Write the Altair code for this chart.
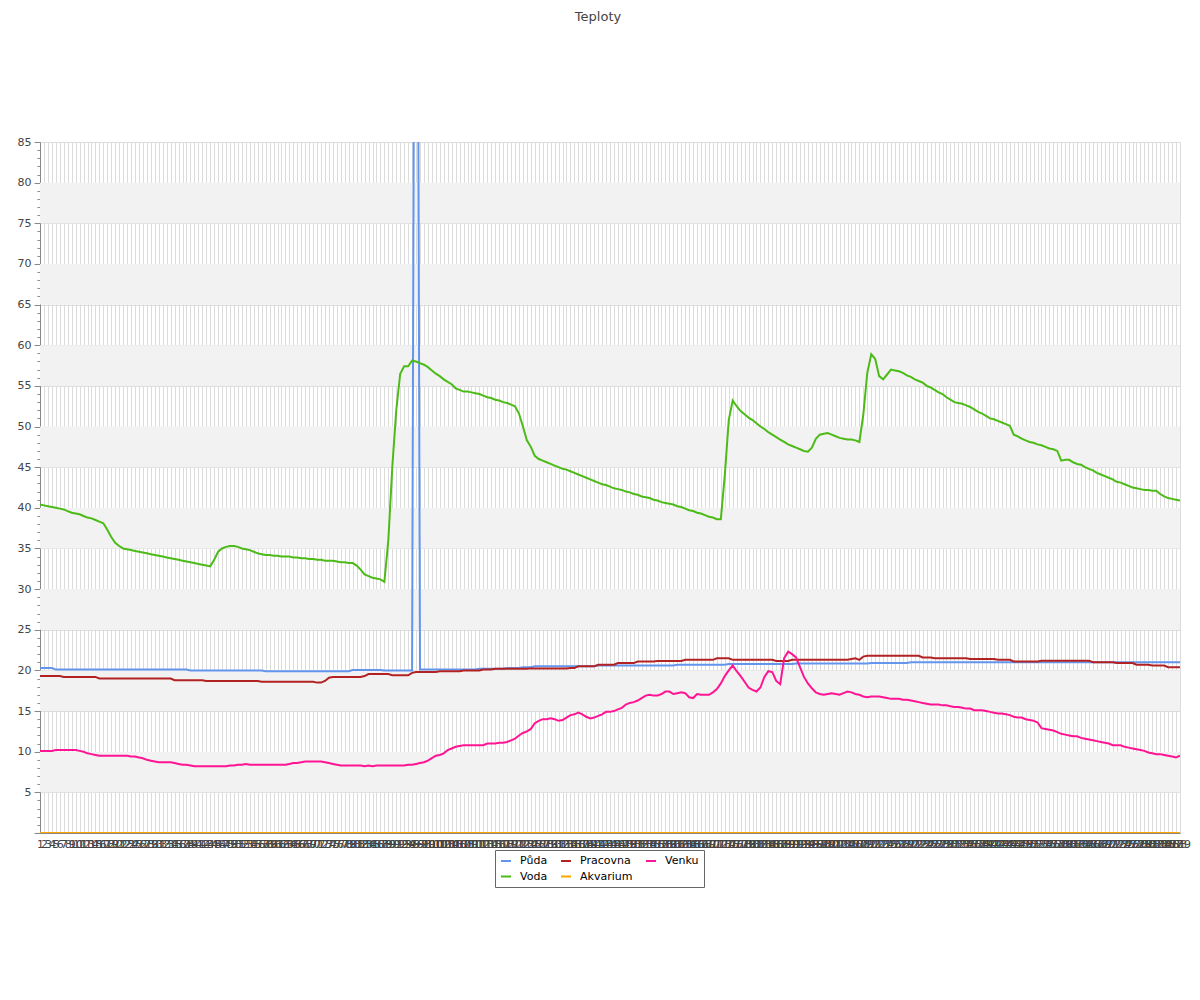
import altair as alt
import pandas as pd

# x-axis tick labels (reading index)
labels = [str(i) for i in range(1, 290)]

series_names = ["Půda", "Voda", "Pracovna", "Akvarium", "Venku"]
series_colors = ["#6495ED", "#4CBB17", "#B22222", "#FFA500", "#FF1493"]

voda = [
    40.4, 40.3, 40.2, 40.1, 40.0, 39.9, 39.8, 39.6, 39.4, 39.3, 39.2, 39.0, 38.8, 38.7, 38.5, 38.3, 38.1,
    37.3, 36.4, 35.7, 35.3, 35.0, 34.9,
    34.8, 34.7, 34.6, 34.5, 34.4, 34.3, 34.2, 34.1, 34.0, 33.9, 33.8, 33.7, 33.6, 33.5, 33.4, 33.3, 33.2, 33.1, 33.0, 32.9, 32.8,
    33.6, 34.6, 35.0, 35.2, 35.3, 35.3, 35.2, 35.0, 34.9, 34.8, 34.6, 34.4, 34.3, 34.2, 34.2, 34.1, 34.1,
    34.0, 34.0, 34.0, 33.9, 33.9, 33.8, 33.8, 33.7, 33.7, 33.6, 33.6, 33.5, 33.5, 33.5, 33.4, 33.3, 33.3, 33.2, 33.2,
    32.9, 32.4, 31.8, 31.6, 31.4, 31.3, 31.2, 30.9,
    36.0, 45.0, 52.0, 56.5, 57.4, 57.4, 58.1, 58.0, 57.8, 57.6, 57.3, 56.9,
    56.5, 56.2, 55.8, 55.5, 55.2, 54.7, 54.5, 54.3, 54.3, 54.2, 54.1, 54.0, 53.8, 53.6, 53.5, 53.3, 53.2, 53.0, 52.9, 52.7, 52.5,
    51.6, 50.0, 48.3, 47.5, 46.4, 46.0, 45.8, 45.6, 45.4, 45.2,
    45.0, 44.8, 44.7, 44.5, 44.3, 44.1, 43.9, 43.7, 43.5, 43.3, 43.1, 42.9, 42.8, 42.6, 42.4, 42.3, 42.2, 42.0, 41.9, 41.7,
    41.6, 41.4, 41.3, 41.2, 41.0, 40.9, 40.7, 40.6, 40.5, 40.4, 40.2, 40.1, 39.9, 39.7, 39.6, 39.4, 39.3, 39.1, 38.9, 38.8, 38.6, 38.6,
    44.0, 50.8, 53.2, 52.5, 51.9, 51.5, 51.1, 50.8, 50.4, 50.0, 49.7, 49.3, 49.0, 48.7, 48.4, 48.1, 47.8, 47.6, 47.4, 47.2, 47.0, 46.9,
    47.4, 48.5, 49.0, 49.1, 49.2, 49.0, 48.8, 48.6, 48.5, 48.4, 48.4, 48.3, 48.1,
    51.5, 56.6, 58.9, 58.3, 56.2, 55.8, 56.4, 57.0, 56.9, 56.8, 56.6, 56.3, 56.1,
    55.8, 55.6, 55.4, 55.0, 54.8, 54.5, 54.2, 54.0, 53.6, 53.3, 53.0, 52.9, 52.8, 52.6, 52.4, 52.1, 51.8, 51.6, 51.3, 51.0, 50.9, 50.7, 50.5, 50.3, 50.1,
    49.0, 48.8, 48.5, 48.3, 48.1, 48.0, 47.8, 47.7, 47.5, 47.3, 47.2, 47.0,
    45.8, 45.9, 45.9, 45.6, 45.4, 45.3, 45.0, 44.8, 44.6, 44.3, 44.1, 43.9, 43.7, 43.5, 43.2, 43.1, 42.9, 42.7, 42.5, 42.4, 42.3, 42.2, 42.2, 42.1, 42.1, 41.7, 41.4, 41.2, 41.1, 41.0, 40.9,
]

venku = [
    10.1, 10.1, 10.1, 10.1, 10.2, 10.2, 10.2, 10.2, 10.2, 10.2,
    10.1, 10.0, 9.8, 9.7, 9.6, 9.5, 9.5, 9.5, 9.5, 9.5, 9.5, 9.5, 9.5,
    9.4, 9.4, 9.3, 9.2, 9.0, 8.9, 8.8, 8.7, 8.7, 8.7, 8.7,
    8.6, 8.5, 8.4, 8.4, 8.3, 8.2, 8.2, 8.2, 8.2, 8.2, 8.2, 8.2, 8.2, 8.2,
    8.3, 8.3, 8.4, 8.4, 8.5, 8.4, 8.4, 8.4, 8.4, 8.4, 8.4, 8.4, 8.4, 8.4, 8.4,
    8.5, 8.6, 8.6, 8.7, 8.8, 8.8, 8.8, 8.8, 8.8, 8.7, 8.6, 8.5, 8.4,
    8.3, 8.3, 8.3, 8.3, 8.3, 8.3, 8.2, 8.3, 8.2, 8.3, 8.3, 8.3, 8.3, 8.3, 8.3, 8.3, 8.3,
    8.4, 8.4, 8.5, 8.6, 8.7, 8.9, 9.2, 9.5, 9.6, 9.8, 10.2, 10.4, 10.6, 10.7,
    10.8, 10.8, 10.8, 10.8, 10.8, 10.8,
    11.0, 11.0, 11.0, 11.1, 11.1, 11.2, 11.4, 11.6, 12.0, 12.3, 12.5, 12.8,
    13.5, 13.8, 14.0, 14.0, 14.1, 14.0, 13.8, 13.9, 14.2, 14.5, 14.6, 14.8, 14.6, 14.3, 14.1,
    14.2, 14.4, 14.6, 14.9, 14.9, 15.0, 15.2, 15.4, 15.8, 16.0, 16.1, 16.3, 16.6, 16.9, 17.0,
    16.9, 16.9, 17.1, 17.4, 17.4, 17.1, 17.2, 17.3, 17.2, 16.7, 16.6, 17.1, 17.0, 17.0, 17.0,
    17.3, 17.7, 18.4, 19.3, 20.0, 20.6, 19.9, 19.3, 18.6, 17.9, 17.6, 17.4, 17.9, 19.2, 19.9,
    19.8, 18.7, 18.3, 21.5, 22.3, 22.0, 21.6, 20.4, 19.2, 18.4, 17.8, 17.3, 17.1, 17.0, 17.1,
    17.2, 17.1, 17.0, 17.2, 17.4, 17.3, 17.1, 17.0, 16.8, 16.7, 16.8, 16.8, 16.8, 16.7, 16.6,
    16.5, 16.5, 16.5, 16.4, 16.4, 16.3, 16.2, 16.1, 16.0, 15.9, 15.8, 15.8, 15.8, 15.7, 15.7,
    15.6, 15.5, 15.5, 15.4, 15.3, 15.3, 15.1, 15.1, 15.1, 15.0, 14.9, 14.8, 14.7, 14.7, 14.6,
    14.5, 14.3, 14.2, 14.2, 14.0, 13.9, 13.8, 13.6, 12.9, 12.8, 12.7, 12.6, 12.4, 12.2, 12.1,
    12.0, 11.9, 11.9, 11.7, 11.6, 11.5, 11.4, 11.3, 11.2, 11.1, 11.0, 10.8, 10.8, 10.8, 10.6,
    10.5, 10.4, 10.3, 10.2, 10.1, 9.9, 9.8, 9.7, 9.7, 9.6, 9.5, 9.4, 9.3, 9.5,
]

# flat stretches: (value, number of readings)
puda_runs = [
    (20.3, 4), (20.1, 34), (20.0, 19), (19.9, 22), (20.05, 8), (20.0, 8), (180.0, 1),
    (20.1, 15), (20.2, 7), (20.3, 4), (20.4, 3), (20.5, 16), (20.6, 20), (20.7, 13),
    (20.8, 17), (20.85, 19), (20.9, 10), (21.0, 69),
]
pracovna_runs = [
    (19.3, 6), (19.2, 9), (19.0, 19), (18.8, 8), (18.7, 14), (18.6, 14), (18.5, 2), (18.7, 1),
    (19.1, 1), (19.2, 8), (19.3, 1), (19.55, 6), (19.4, 5), (19.7, 1), (19.8, 6), (19.9, 6),
    (20.0, 5), (20.1, 3), (20.2, 9), (20.25, 10), (20.3, 2), (20.5, 5), (20.7, 5), (20.9, 5),
    (21.1, 5), (21.15, 7), (21.3, 8), (21.5, 4), (21.3, 11), (21.15, 4), (21.3, 15), (21.4, 1),
    (21.5, 1), (21.3, 1), (21.7, 1), (21.8, 14), (21.6, 3), (21.5, 9), (21.4, 7), (21.3, 4),
    (21.1, 7), (21.2, 13), (21.0, 6), (20.9, 5), (20.7, 4), (20.6, 4), (20.4, 4),
]
akvarium_runs = [(0.0, 289)]

band_lo = [5, 15, 25, 35, 45, 55, 65, 75]
band_hi = [10, 20, 30, 40, 50, 60, 70, 80]


def expand(runs):
    out = []
    for v, n in runs:
        out.extend([v] * n)
    return out


puda = expand(puda_runs)
pracovna = expand(pracovna_runs)
akvarium = expand(akvarium_runs)

values = {"Půda": puda, "Voda": voda, "Pracovna": pracovna, "Akvarium": akvarium, "Venku": venku}
rows = []
for name in series_names:
    vals = values[name]
    for lab, v in zip(labels, vals):
        rows.append({"x": lab, "value": v, "serie": name})
df = pd.DataFrame(rows)
bands = pd.DataFrame({"lo": band_lo, "hi": band_hi})

FONT = "DejaVu Sans"
major = "datum.value % 5 === 0"

y_axis = alt.Axis(
    values=list(range(0, 86)),
    labelExpr="datum.value % 5 === 0 && datum.value > 0 ? datum.label : ''",
    tickSize={"condition": {"test": major, "value": 6}, "value": 3},
    gridOpacity={"condition": {"test": major, "value": 1}, "value": 0},
    gridColor="#dcdcdc",
    domainColor="#888888",
    tickColor="#888888",
    labelFontSize=11,
    labelColor="#444444",
    labelPadding=3,
    labelFont=FONT,
    title=None,
)
x_axis = alt.Axis(
    labelAngle=0,
    labelOverlap=False,
    labelBound=False,
    grid=True,
    gridColor="#dcdcdc",
    ticks=False,
    domainColor="#888888",
    labelFontSize=11,
    labelColor="#444444",
    labelPadding=5,
    labelFont=FONT,
    title=None,
)

yscale = alt.Scale(domain=[0, 85], nice=False, zero=False)

band_layer = alt.Chart(bands).mark_rect(color="#f2f2f2").encode(
    y=alt.Y("lo:Q", scale=yscale, axis=y_axis),
    y2="hi:Q",
)

lines = alt.Chart(df).mark_line(strokeWidth=2, clip=True).encode(
    x=alt.X("x:O", sort=labels, scale=alt.Scale(type="point", padding=0), axis=x_axis),
    y=alt.Y("value:Q", scale=yscale, axis=y_axis),
    color=alt.Color(
        "serie:N",
        scale=alt.Scale(domain=series_names, range=series_colors),
        legend=alt.Legend(
            orient="none",
            legendX=455,
            legendY=708,
            columns=3,
            title=None,
            symbolType="stroke",
            symbolStrokeWidth=2,
            symbolSize=100,
            labelFontSize=11,
            labelFont=FONT,
            labelColor="#000000",
            strokeColor="#666666",
            fillColor="#ffffff",
            padding=5,
            columnPadding=9,
            rowPadding=4.5,
            labelOffset=8,
        ),
    ),
)

chart = alt.layer(band_layer, lines).properties(
    width=1140,
    height=691,
    autosize=alt.AutoSizeParams(type="none"),
    padding={"left": 32, "top": 134, "right": 12, "bottom": 110},
    title=alt.TitleParams(
        "Teploty", fontSize=13, fontWeight="normal", color="#444444",
        font=FONT, anchor="middle", offset=112, dx=-12,
    ),
).configure_view(stroke=None).configure(font=FONT)

chart.save("out.html", embed_options={"renderer": "svg", "actions": False})
